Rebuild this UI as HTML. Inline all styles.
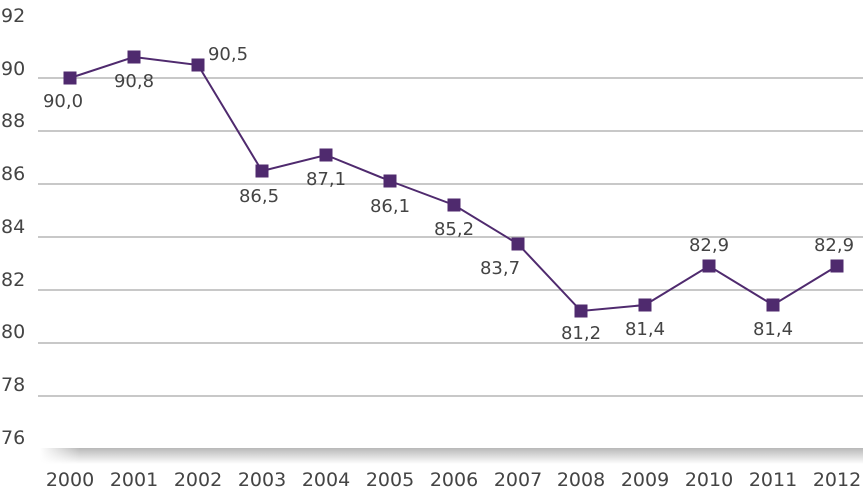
<!DOCTYPE html>
<html><head><style>body{margin:0;background:#fff}</style></head><body>
<svg width="863" height="491" xmlns="http://www.w3.org/2000/svg" font-family="DejaVu Sans, Liberation Sans, sans-serif" font-size="18" fill="#444">
<defs>
<linearGradient id="sh" x1="0" y1="0" x2="0" y2="1"><stop offset="0" stop-color="#b8b8b8"/><stop offset="1" stop-color="#fff"/></linearGradient>
<linearGradient id="shx" x1="0" y1="0" x2="1" y2="0"><stop offset="0" stop-color="#fff"/><stop offset="1" stop-color="#fff" stop-opacity="0"/></linearGradient>
</defs>
<rect x="40" y="448" width="823" height="16" fill="url(#sh)"/>
<rect x="40" y="448" width="40" height="16" fill="url(#shx)"/>
<g stroke="#b5b5b5" stroke-width="1.5">
<line x1="38" x2="863" y1="78" y2="78"/><line x1="38" x2="863" y1="131" y2="131"/>
<line x1="38" x2="863" y1="184" y2="184"/><line x1="38" x2="863" y1="237" y2="237"/>
<line x1="38" x2="863" y1="290" y2="290"/><line x1="38" x2="863" y1="343" y2="343"/>
<line x1="38" x2="863" y1="396" y2="396"/>
</g>
<g font-size="19">
<text x="1" y="22">92</text><text x="1" y="75">90</text><text x="1" y="127">88</text><text x="1" y="180">86</text>
<text x="1" y="233">84</text><text x="1" y="286">82</text><text x="1" y="338">80</text><text x="1" y="391">78</text><text x="1" y="444">76</text>
</g>
<g text-anchor="middle" font-size="19">
<text x="70" y="486">2000</text><text x="134" y="486">2001</text><text x="198" y="486">2002</text><text x="262" y="486">2003</text>
<text x="326" y="486">2004</text><text x="390" y="486">2005</text><text x="454" y="486">2006</text><text x="518" y="486">2007</text>
<text x="581" y="486">2008</text><text x="645" y="486">2009</text><text x="709" y="486">2010</text><text x="773" y="486">2011</text><text x="837" y="486">2012</text>
</g>
<polyline fill="none" stroke="#4f2a6e" stroke-width="2" points="70,78 134,57 198,65 262,171 326,155 390,181 454,205 518,244 581,311 645,305 709,266 773,305 837,266"/>
<g fill="#4f2a6e">
<rect x="63.5" y="71.5" width="13" height="13"/><rect x="127.5" y="50.5" width="13" height="13"/><rect x="191.5" y="58.5" width="13" height="13"/>
<rect x="255.5" y="164.5" width="13" height="13"/><rect x="319.5" y="148.5" width="13" height="13"/><rect x="383.5" y="174.5" width="13" height="13"/>
<rect x="447.5" y="198.5" width="13" height="13"/><rect x="511.5" y="237.5" width="13" height="13"/><rect x="574.5" y="304.5" width="13" height="13"/>
<rect x="638.5" y="298.5" width="13" height="13"/><rect x="702.5" y="259.5" width="13" height="13"/><rect x="766.5" y="298.5" width="13" height="13"/><rect x="830.5" y="259.5" width="13" height="13"/>
</g>
<g text-anchor="middle">
<text x="63" y="107">90,0</text><text x="134" y="87">90,8</text><text x="228" y="60">90,5</text>
<text x="259" y="202">86,5</text><text x="326" y="185">87,1</text><text x="390" y="212">86,1</text>
<text x="454" y="235">85,2</text><text x="500" y="274">83,7</text><text x="581" y="339">81,2</text>
<text x="645" y="335">81,4</text><text x="709" y="251">82,9</text><text x="773" y="335">81,4</text><text x="834" y="251">82,9</text>
</g>
</svg>
</body></html>
